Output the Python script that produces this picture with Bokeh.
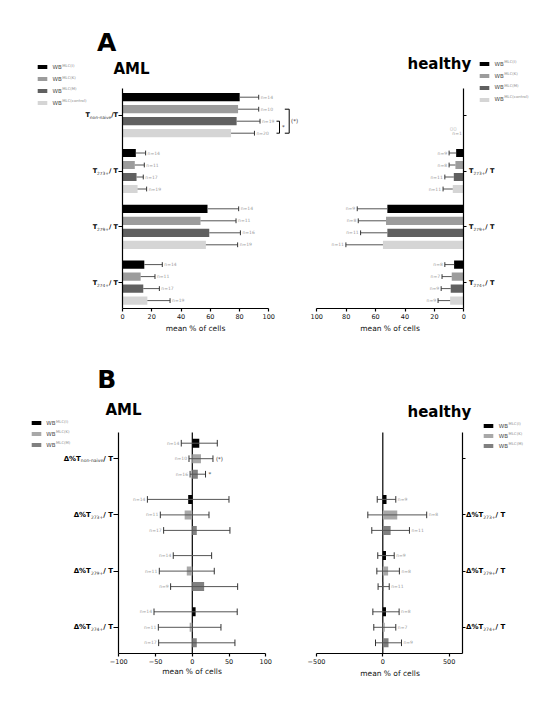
import numpy as np
from bokeh.plotting import figure
from bokeh.models import Range1d, FixedTicker, Label, Legend, LegendItem, ColumnDataSource, LinearAxis
from bokeh.layouts import column, row
from bokeh.embed import file_html
from bokeh.resources import INLINE
from bokeh.core.properties import value

FONT = "DejaVu Sans"

# ---------------- data ----------------
groups = ["non-naive", "273+", "279+", "274+"]
series_A = ["MLC(I)", "MLC(K)", "MLC(M)", "MLC(control)"]
series_B = ["MLC(I)", "MLC(K)", "MLC(M)"]
colors_A = ["#000000", "#9c9c9c", "#606060", "#d5d5d5"]
colors_B = ["#000000", "#a8a8a8", "#808080"]

# Panel A, AML: mean % of cells, SD, n
aml_I = [80.1, 9.1, 58.1, 14.9]
aml_I_sd = [13.0, 6.7, 21.3, 12.3]
aml_I_n = [14, 14, 14, 14]
aml_K = [79.0, 8.4, 53.3, 12.4]
aml_K_sd = [14.1, 6.5, 24.3, 9.8]
aml_K_n = [10, 11, 11, 11]
aml_M = [78.0, 9.6, 59.3, 14.2]
aml_M_sd = [16.0, 4.6, 21.3, 11.0]
aml_M_n = [19, 17, 16, 17]
aml_C = [74.2, 10.3, 57.0, 17.0]
aml_C_sd = [16.0, 6.2, 21.7, 15.5]
aml_C_n = [20, 19, 19, 19]

# Panel A, healthy
hd_I = [None, 5.2, 52.0, 6.6]
hd_I_sd = [None, 4.8, 20.5, 6.3]
hd_I_n = [None, 9, 9, 8]
hd_K = [None, 5.7, 52.9, 8.2]
hd_K_sd = [None, 4.3, 18.9, 6.6]
hd_K_n = [None, 8, 8, 7]
hd_M = [None, 6.8, 52.0, 8.9]
hd_M_sd = [None, 6.1, 18.2, 6.5]
hd_M_n = [None, 11, 11, 9]
hd_C = [0.0, 7.5, 55.0, 9.3]
hd_C_sd = [0.0, 6.6, 25.2, 8.2]
hd_C_n = [1, 11, 11, 9]

# Panel B, AML: delta % (mean, SD, n)
daml_I = [9.5, -5.6, 0.2, 4.5]
daml_I_sd = [24.5, 55.5, 26.1, 56.6]
daml_I_n = [14, 14, 14, 14]
daml_K = [11.8, -10.4, -7.5, -3.6]
daml_K_sd = [16.3, 33.1, 37.4, 42.6]
daml_K_n = [10, 11, 11, 11]
daml_M = [7.5, 6.1, 16.1, 6.1]
daml_M_sd = [10.5, 45.1, 45.6, 51.9]
daml_M_n = [16, 17, 9, 17]

# Panel B, healthy
dhd_I = [None, 28.0, 24.0, 24.0]
dhd_I_sd = [None, 70.0, 62.0, 99.0]
dhd_I_n = [None, 9, 9, 8]
dhd_K = [None, 109.0, 40.0, 15.0]
dhd_K_sd = [None, 222.0, 85.0, 83.0]
dhd_K_n = [None, 8, 8, 7]
dhd_M = [None, 59.0, 6.5, 43.0]
dhd_M_sd = [None, 142.0, 42.0, 98.0]
dhd_M_n = [None, 11, 11, 9]

ticks_A = [0, 20, 40, 60, 80, 100]
ticks_B_aml = [-100, -50, 0, 50, 100]
ticks_B_hd = [-500, 0, 500]

# ---------------- helpers ----------------
REG = {' ': .318, '%': .950, '+': .838, '-': .361, '/': .337, '=': .838, '(': .390, ')': .390,
       'a': .613, 'c': .550, 'e': .615, 'f': .352, 'i': .278, 'l': .278, 'm': .974, 'n': .634,
       'o': .612, 'r': .411, 's': .521, 't': .392, 'v': .592, 'B': .686, 'C': .698, 'I': .295,
       'K': .656, 'L': .557, 'M': .863, 'T': .611, 'W': .989}
BOLD = {' ': .348, '%': 1.002, '/': .365, 'T': .682, 'Δ': .774, '+': .838}


def tw(s, size, bold):
    tab = BOLD if bold else REG
    return sum(tab.get(ch, .66 if bold else .636) for ch in s) * size


class Map:
    """page pixel <-> data mapping for one figure (frame box in page pixels)."""
    def __init__(self, fl, fr, ft, fb, xa_px, xa_val, xk, ya_px, ya_val, yk):
        self.fl, self.fr, self.ft, self.fb = fl, fr, ft, fb
        self.xa_px, self.xa_val, self.xk = xa_px, xa_val, xk
        self.ya_px, self.ya_val, self.yk = ya_px, ya_val, yk

    def X(self, px):
        return self.xa_val + (px - self.xa_px) / self.xk

    def Y(self, py):
        return self.ya_val + (py - self.ya_px) / self.yk

    def dY(self, py):
        return py / self.yk


def make_fig(w, h, m, cl, ct, yside, yfix_px, xfix_py, ybounds_px, xbounds, xticks, yticks, ytick_out):
    p = figure(width=w, height=h,
               x_range=Range1d(m.X(m.fl), m.X(m.fr)), y_range=Range1d(m.Y(m.fb), m.Y(m.ft)),
               output_backend="svg", toolbar_location=None, title=None,
               x_axis_location=None, y_axis_location=None,
               min_border_left=int(m.fl - cl), min_border_right=int(cl + w - m.fr),
               min_border_top=int(m.ft - ct), min_border_bottom=int(ct + h - m.fb))
    p.outline_line_color = None
    p.grid.visible = False
    p.background_fill_color = "white"
    p.border_fill_color = "white"
    xa = LinearAxis(fixed_location=m.Y(xfix_py), bounds=xbounds, ticker=FixedTicker(ticks=xticks))
    ya = LinearAxis(fixed_location=m.X(yfix_px), bounds=(m.Y(ybounds_px[0]), m.Y(ybounds_px[1])),
                    ticker=FixedTicker(ticks=yticks))
    for ax in (xa, ya):
        ax.axis_line_color = "black"
        ax.axis_line_width = 1.2
        ax.major_tick_line_color = "black"
        ax.major_tick_line_width = 1.2
        ax.minor_tick_line_color = None
        ax.major_tick_in = 0
        ax.major_label_text_font = FONT
    xa.major_label_text_font_size = "6.5px"
    xa.major_label_text_color = "#111111"
    xa.major_tick_out = 3
    xa.major_label_standoff = 2
    ya.major_tick_out = ytick_out
    ya.major_label_standoff = 0
    ya.major_label_text_font_size = "1px"
    ya.major_label_text_color = None
    p.add_layout(xa, "below")
    p.add_layout(ya, yside)
    return p


def lab(p, m, px, py, text, size, bold=False, color="#000000", align="left", baseline="middle"):
    p.add_layout(Label(x=m.X(px), y=m.Y(py), text=text, text_font=FONT,
                       text_font_size=f"{size}px", text_font_style="bold" if bold else "normal",
                       text_color=color, text_align=align, text_baseline=baseline))


def cat_label(p, m, x_px, yc, parts, msize, ssize, align):
    m1, sub, m2 = parts
    w1, w2, w3 = tw(m1, msize, True), tw(sub, ssize, False), tw(m2, msize, True)
    x1 = x_px - w1 - w2 - w3 if align == "right" else x_px
    for txt, x, size, bold, dy, col in [(m1, x1, msize, True, 0, "#000000"),
                                        (sub, x1 + w1, ssize, False, 2.0, "#333333"),
                                        (m2, x1 + w1 + w2, msize, True, 0, "#000000")]:
        p.add_layout(Label(x=m.X(x), y=yc + m.dY(dy), text=txt, text_font=FONT,
                           text_font_size=f"{size}px", text_font_style="bold" if bold else "normal",
                           text_color=col, text_align="left", text_baseline="middle"))


def legend_block(p, m, renderers, sw_left, centers, text_left, sups):
    n = len(centers)
    gh = 5
    pitch = (centers[-1] - centers[0]) / (n - 1)
    spacing = int(round(pitch - gh))
    top = centers[0] - gh / 2
    height = n * gh + (n - 1) * spacing
    bottom = top + height
    leg = Legend(items=[LegendItem(label=" ", renderers=[r]) for r in renderers],
                 location=(float(sw_left - 1.2 - m.fl), float(m.fb - bottom)),
                 orientation="vertical", glyph_width=12, glyph_height=gh, label_height=gh,
                 label_width=1, label_standoff=0, spacing=spacing, padding=0, margin=0,
                 border_line_color=None, background_fill_alpha=0, label_text_font_size="1px")
    p.add_layout(leg)
    for i, sup in enumerate(sups):
        cy = centers[0] + i * pitch
        lab(p, m, text_left, cy, "WB", 5.5, color="#444444")
        lab(p, m, text_left + tw("WB", 5.5, False) + 0.6, cy - 2.2, sup, 3.8, color="#888888")


def series(p, ys, means, sds, ns, color, height, two_sided, cap_half, n_at, n_off, n_align):
    idx = [i for i, mv in enumerate(means) if mv is not None]
    y = [ys[i] for i in idx]
    mm = [means[i] for i in idx]
    sd = [sds[i] for i in idx]
    lo = [a - b if two_sided else a for a, b in zip(mm, sd)]
    hi = [a + b for a, b in zip(mm, sd)]
    src = ColumnDataSource(dict(y=y, m=mm, lo=lo, hi=hi,
                                n=["n=%d" % ns[i] for i in idx],
                                nx=[(lo if n_at == "lo" else hi)[k] for k in range(len(idx))]))
    r = p.hbar(y="y", left=0, right="m", height=height, fill_color=color, line_color=None, source=src)
    keep = [k for k in range(len(idx)) if sd[k] > 0]
    ey = [y[k] for k in keep]
    p.segment(x0=[lo[k] for k in keep], y0=ey, x1=[hi[k] for k in keep], y1=ey,
              line_color="#555555", line_width=1)
    cx = [hi[k] for k in keep] + ([lo[k] for k in keep] if two_sided else [])
    cy = ey + (ey if two_sided else [])
    p.segment(x0=cx, y0=[v - cap_half for v in cy], x1=cx, y1=[v + cap_half for v in cy],
              line_color="#333333", line_width=1)
    p.text(x="nx", y="y", text="n", source=src, x_offset=n_off, text_align=n_align,
           text_baseline="middle", text_font=value(FONT), text_font_size="4.5px",
           text_color="#9a9a9a")
    return r


# ---------------- Panel A ----------------
SLOT_A = 12.0
GP_A = 4.65
gc_A = [g * GP_A for g in range(len(groups))]

mA1 = Map(25, 305, 0, 337, 122.0, 0.0, 1.463, 96.7, -1.5, SLOT_A)
pA1 = make_fig(305, 362, mA1, 0, 0, "left", 122.0, 308, (88, 308), (0, 100), ticks_A, gc_A, 4)
mA2 = Map(305, 546, 0, 337, 463.3, 0.0, -1.47, 96.7, -1.5, SLOT_A)
pA2 = make_fig(253, 362, mA2, 305, 0, "right", 463.3, 308, (88, 308), (0, 100), ticks_A, gc_A, 3)

aml_sets = [(aml_I, aml_I_sd, aml_I_n), (aml_K, aml_K_sd, aml_K_n),
            (aml_M, aml_M_sd, aml_M_n), (aml_C, aml_C_sd, aml_C_n)]
hd_sets = [(hd_I, hd_I_sd, hd_I_n), (hd_K, hd_K_sd, hd_K_n),
           (hd_M, hd_M_sd, hd_M_n), (hd_C, hd_C_sd, hd_C_n)]

rA1, rA2 = [], []
for s, ((mv, sd, n), (hm, hsd, hn)) in enumerate(zip(aml_sets, hd_sets)):
    ys = [g + s - 1.5 for g in gc_A]
    rA1.append(series(pA1, ys, mv, sd, n, colors_A[s], 0.68, False, 2.4 / SLOT_A, "hi", 2, "left"))
    rA2.append(series(pA2, ys, hm, hsd, hn, colors_A[s], 0.68, False, 2.4 / SLOT_A, "hi", -2, "right"))

# significance brackets (AML, non-naive: control vs M and control vs K)
y_k, y_m, y_c = gc_A[0] - 0.5, gc_A[0] + 0.5, gc_A[0] + 1.5
pA1.multi_line(xs=[[mA1.X(276), mA1.X(279), mA1.X(279), mA1.X(276)],
                   [mA1.X(284.3), mA1.X(288.7), mA1.X(288.7), mA1.X(284.3)]],
               ys=[[y_m, y_m, y_c, y_c], [y_k, y_k, y_c, y_c]], line_color="black", line_width=1)
pA1.text(x=[mA1.X(281.5), mA1.X(290.5)], y=[(y_m + y_c) / 2, (y_k + y_c) / 2], text=["*", "(*)"],
         text_align="left", text_baseline="middle", text_font=value(FONT), text_font_size="5.5px",
         text_color="#333333")
pA2.text(x=[0], y=[gc_A[0] + 1.5 - 5 / SLOT_A], text=["00"], x_offset=-7, text_align="right",
         text_baseline="middle", text_font=value(FONT), text_font_size="5.5px", text_color="#cccccc")

# titles, legends, category labels
lab(pA1, mA1, 96.5, 41.5, "A", 25, bold=True, baseline="alphabetic")
lab(pA1, mA1, 113, 68, "AML", 15, bold=True, baseline="alphabetic")
lab(pA2, mA2, 407, 63.5, "healthy", 15, bold=True, baseline="alphabetic")
legend_block(pA1, mA1, rA1, 36.7, [66.8, 78.7, 90.6, 102.5], 52, series_A)
legend_block(pA2, mA2, rA2, 479, [63.3, 75.0, 86.7, 98.4], 494, series_A)
partsA = [("T", "non-naive", "/T"), ("T", "273+", "/ T"), ("T", "279+", "/ T"), ("T", "274+", "/ T")]
for g, parts in enumerate(partsA):
    cat_label(pA1, mA1, 117.5, gc_A[g], parts, 6.5, 4.3, "right")
    if g > 0:
        cat_label(pA2, mA2, 468.5, gc_A[g], parts, 6.5, 4.3, "left")
lab(pA1, mA1, 195, 327.5, "mean % of cells", 7.5, color="#111111", align="center")
lab(pA2, mA2, 389.5, 327.5, "mean % of cells", 7.5, color="#111111", align="center")

# ---------------- Panel B ----------------
SLOT_B = 15.5
GP_B = 3.626
gc_B = [g * GP_B for g in range(len(groups))]

mB1 = Map(25, 305, 362, 684, 118.3, -100.0, 0.735, 442.7, -1.0, SLOT_B)
pB1 = make_fig(305, 340, mB1, 0, 362, "left", 118.3, 653, (432, 653), (-100, 100),
               ticks_B_aml, gc_B, 5)
mB2 = Map(305, 546, 362, 684, 382.3, 0.0, 0.1326, 442.7, -1.0, SLOT_B)
pB2 = make_fig(253, 340, mB2, 305, 362, "right", 461.7, 653, (432, 653), (-500, mB2.X(461.7)),
               ticks_B_hd, gc_B, 3)

# zero reference lines
for p, m in ((pB1, mB1), (pB2, mB2)):
    p.segment(x0=[0], y0=[m.Y(432)], x1=[0], y1=[m.Y(653)], line_color="black", line_width=1.2)

daml_sets = [(daml_I, daml_I_sd, daml_I_n), (daml_K, daml_K_sd, daml_K_n), (daml_M, daml_M_sd, daml_M_n)]
dhd_sets = [(dhd_I, dhd_I_sd, dhd_I_n), (dhd_K, dhd_K_sd, dhd_K_n), (dhd_M, dhd_M_sd, dhd_M_n)]
rB1, rB2 = [], []
for s, ((mv, sd, n), (hm, hsd, hn)) in enumerate(zip(daml_sets, dhd_sets)):
    ys = [g + s - 1 for g in gc_B]
    rB1.append(series(pB1, ys, mv, sd, n, colors_B[s], 0.58, True, 3.3 / SLOT_B, "lo", -2, "right"))
    rB2.append(series(pB2, ys, hm, hsd, hn, colors_B[s], 0.58, True, 3.3 / SLOT_B, "hi", 2, "left"))

pB1.text(x=[daml_K[0] + daml_K_sd[0], daml_M[0] + daml_M_sd[0]], y=[gc_B[0], gc_B[0] + 1],
         text=["(*)", "*"], x_offset=3, text_align="left", text_baseline="middle",
         text_font=value(FONT), text_font_size="5.5px", text_color="#333333")

lab(pB1, mB1, 96.7, 379, "B", 25, bold=True, baseline="alphabetic")
lab(pB1, mB1, 105, 409.5, "AML", 15, bold=True, baseline="alphabetic")
lab(pB2, mB2, 407, 411, "healthy", 15, bold=True, baseline="alphabetic")
legend_block(pB1, mB1, rB1, 31, [422.7, 433.3, 444.0], 45.7, series_B)
legend_block(pB2, mB2, rB2, 483.3, [425.0, 435.0, 445.0], 498.3, series_B)
partsB = [("Δ%T", "non-naive", "/ T"), ("Δ%T", "273+", "/ T"), ("Δ%T", "279+", "/ T"), ("Δ%T", "274+", "/ T")]
for g, parts in enumerate(partsB):
    cat_label(pB1, mB1, 112.5, gc_B[g], parts, 7, 4.5, "right")
    if g > 0:
        cat_label(pB2, mB2, 465.5, gc_B[g], parts, 7, 4.5, "left")
lab(pB1, mB1, 191.5, 671, "mean % of cells", 7.5, color="#111111", align="center")
lab(pB2, mB2, 389.5, 673, "mean % of cells", 7.5, color="#111111", align="center")

layout = column(row(pA1, pA2), row(pB1, pB2))
open("out.html", "w").write(file_html(layout, INLINE))
